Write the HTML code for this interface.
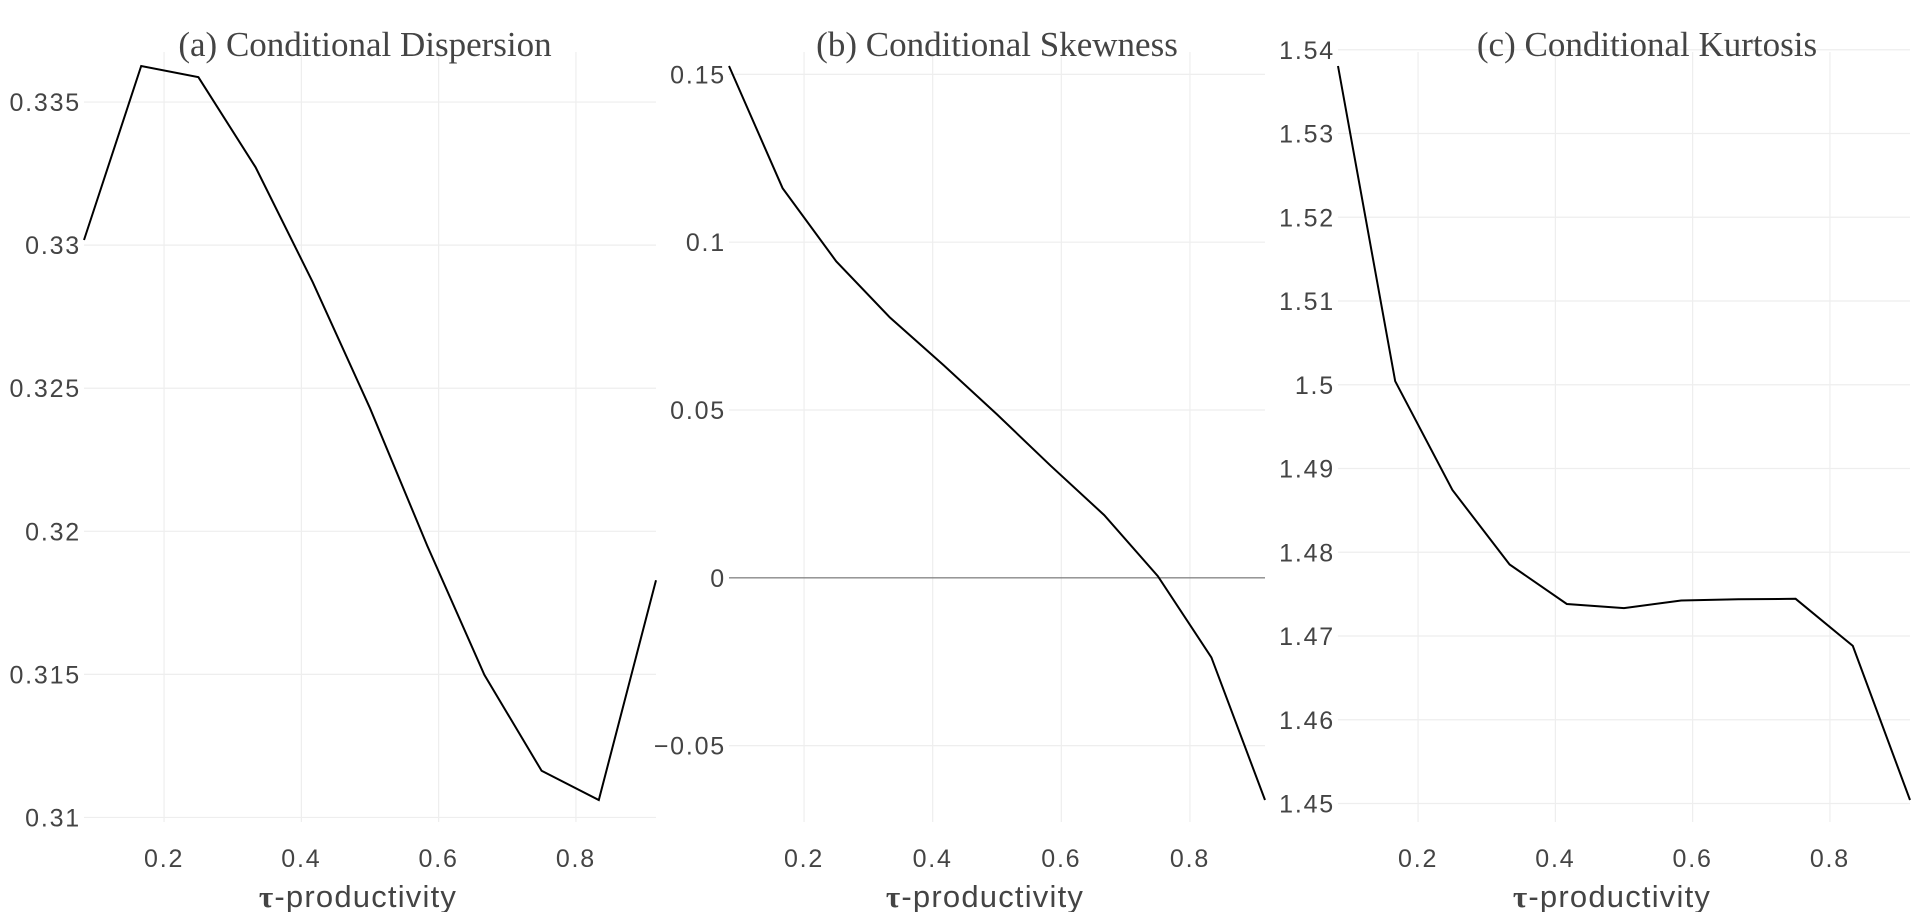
<!DOCTYPE html>
<html><head><meta charset="utf-8"><style>
html,body{margin:0;padding:0;background:#fff;}
svg{display:block;}
.tk{font-family:"Liberation Sans",sans-serif;font-size:25px;fill:#444;letter-spacing:1.8px;}
.ttl{font-family:"Liberation Serif",serif;font-size:35px;fill:#444;}
.xt{font-family:"Liberation Sans",sans-serif;font-size:31px;fill:#444;letter-spacing:1.2px;}
</style></head><body>
<svg id="chart" width="1920" height="912" viewBox="0 0 1920 912" xmlns="http://www.w3.org/2000/svg"></svg>
<script>
const tau = [1/12,2/12,3/12,4/12,5/12,6/12,7/12,8/12,9/12,10/12,11/12];
const xTicks = [0.2,0.4,0.6,0.8];
const dispersion = [0.33018,0.33626,0.33587,0.33272,0.3287,0.3243,0.3195,0.31498,0.31163,0.31061,0.31829];
const skewness = [0.1525,0.1161,0.0943,0.0776,0.0634,0.0487,0.0334,0.0187,0.0005,-0.0237,-0.0662];
const kurtosis = [1.53806,1.50042,1.48743,1.47854,1.47382,1.47333,1.47424,1.47438,1.47444,1.46882,1.45042];
const dispTicks = [0.31,0.315,0.32,0.325,0.33,0.335];
const dispLabels = ["0.31","0.315","0.32","0.325","0.33","0.335"];
const skewTicks = [-0.05,0,0.05,0.1,0.15];
const skewLabels = ["\u22120.05","0","0.05","0.1","0.15"];
const kurtTicks = [1.45,1.46,1.47,1.48,1.49,1.5,1.51,1.52,1.53,1.54];
const kurtLabels = ["1.45","1.46","1.47","1.48","1.49","1.5","1.51","1.52","1.53","1.54"];
const titles = ["(a) Conditional Dispersion","(b) Conditional Skewness","(c) Conditional Kurtosis"];

const NS="http://www.w3.org/2000/svg";
const svg=document.getElementById('chart');
function mk(tag,attrs,parent){const e=document.createElementNS(NS,tag);for(const k in attrs)e.setAttribute(k,attrs[k]);(parent||svg).appendChild(e);return e;}

const panels=[
 {name:'dispersion',x0:84,x1:656,vals:dispersion,ticks:dispTicks,labels:dispLabels,titleX:365,zero:false},
 {name:'skewness',x0:729,x1:1265,vals:skewness,ticks:skewTicks,labels:skewLabels,titleX:997,zero:true},
 {name:'kurtosis',x0:1338,x1:1910,vals:kurtosis,ticks:kurtTicks,labels:kurtLabels,titleX:1647,zero:false}
];
const yTop=66,yBot=800;
panels.forEach((p,pi)=>{
  const g=mk('g',{});
  
  
  const xmin=tau[0],xmax=tau[tau.length-1];
  const ymin=Math.min(...p.vals),ymax=Math.max(...p.vals);
  const sx=v=>p.x0+(v-xmin)/(xmax-xmin)*(p.x1-p.x0);
  const sy=v=>yBot-(v-ymin)/(ymax-ymin)*(yBot-yTop);
  xTicks.forEach(t=>{
    const l=mk('line',{x1:sx(t),x2:sx(t),y1:52,y2:822,stroke:'#eeeeee','stroke-width':1.2},g);
    
    
    const tx=mk('text',{x:sx(t),y:867,'text-anchor':'middle',class:'tk'},g);
    tx.textContent=String(t);
    
    
  });
  p.ticks.forEach((t,i)=>{
    const y=sy(t);
    const isZero=p.zero&&t===0;
    const l=mk('line',{x1:p.x0,x2:p.x1,y1:y,y2:y,stroke:isZero?'#888888':'#eeeeee','stroke-width':isZero?1.3:1.2},g);
    
    
    const tx=mk('text',{x:p.x0-3,y:y+9,'text-anchor':'end',class:'tk'},g);
    tx.textContent=p.labels[i];
    
    
  });
  const pts=tau.map((t,i)=>sx(t).toFixed(1)+','+sy(p.vals[i]).toFixed(1)).join(' ');
  const line=mk('polyline',{points:pts,fill:'none',stroke:'#000','stroke-width':2},g);
  
  
  const tt=mk('text',{x:p.titleX,y:56,'text-anchor':'middle',class:'ttl'},g);
  tt.textContent=titles[pi];
  
  
  const xt=mk('text',{x:(p.x0+p.x1)/2-12,y:907,'text-anchor':'middle',class:'xt'},g);
  xt.innerHTML='<tspan font-weight="bold" font-family="Liberation Serif, serif">\u03c4</tspan>-productivity';
  
  
});
</script>
</body></html>
